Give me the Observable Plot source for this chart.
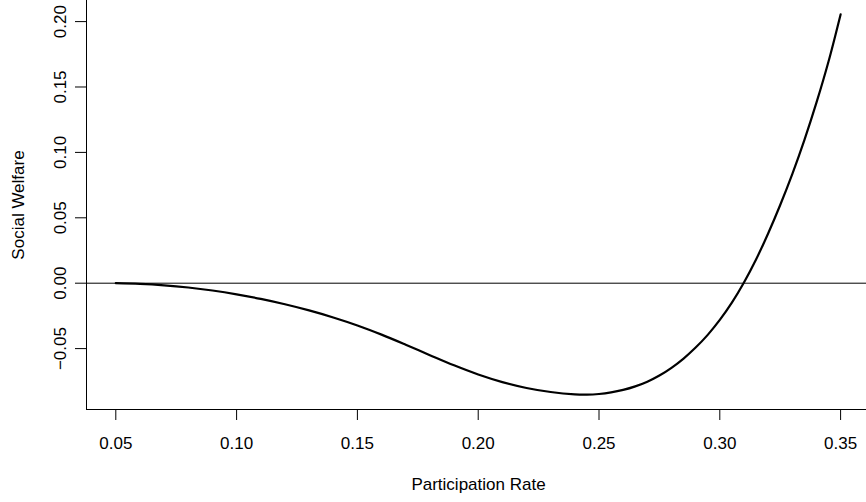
<!DOCTYPE html>
<html>
<head>
<meta charset="utf-8">
<script src="https://cdn.jsdelivr.net/npm/d3@7"></script>
<script src="https://cdn.jsdelivr.net/npm/@observablehq/plot@0.6"></script>
<style>
  html, body { margin: 0; padding: 0; background: #ffffff; }
  #chart svg { display: block; }
</style>
</head>
<body>
<div id="chart"></div>
<script>
// Data
const participationRate = [0.050, 0.060, 0.070, 0.080, 0.090, 0.100, 0.110, 0.120, 0.130, 0.140,
  0.150, 0.160, 0.170, 0.180, 0.190, 0.200, 0.210, 0.220, 0.230, 0.240, 0.245, 0.250, 0.255,
  0.260, 0.265, 0.270, 0.275, 0.280, 0.285, 0.290, 0.295, 0.300, 0.305, 0.310, 0.315, 0.320,
  0.325, 0.330, 0.335, 0.340, 0.345, 0.350];
const socialWelfare = [0.0000, -0.0005, -0.0016, -0.0033, -0.0056, -0.0085, -0.0120, -0.0161, -0.0208, -0.0262,
  -0.0323, -0.0393, -0.0470, -0.0550, -0.0628, -0.0698, -0.0756, -0.0801, -0.0832, -0.0850, -0.0852, -0.0847, -0.0835,
  -0.0816, -0.0789, -0.0753, -0.0706, -0.0647, -0.0576, -0.0492, -0.0395, -0.0281, -0.0149, 0.0005, 0.0181, 0.0380,
  0.0598, 0.0834, 0.1094, 0.1380, 0.1695, 0.2055];
const xTicks = [0.05, 0.10, 0.15, 0.20, 0.25, 0.30, 0.35];
const yTicks = [-0.05, 0.00, 0.05, 0.10, 0.15, 0.20];
const xLabel = "Participation Rate";
const yLabel = "Social Welfare";

const xDomain = [0.03787, 0.36072];
const yDomain = [-0.09656, 0.21613];

const rows = participationRate.map((x, i) => ({x, y: socialWelfare[i]}));
const fmt = d3.format(".2f");
const fmtY = d => (d < 0 ? "\u2212" + fmt(-d) : fmt(d));
const FS = 17;

const chart = Plot.plot({
  width: 866,
  height: 502,
  marginLeft: 86,
  marginRight: 0,
  marginTop: 0,
  marginBottom: 93,
  style: {fontFamily: "'Liberation Sans', Arial, Helvetica, sans-serif", fontSize: FS + "px", background: "#ffffff", color: "#000000"},
  x: {domain: xDomain},
  y: {domain: yDomain},
  marks: [
    Plot.axisX({ticks: xTicks, tickFormat: fmt, tickSize: 11, tickPadding: 16, label: null, fontSize: FS, stroke: "#000", fill: "#000"}),
    Plot.axisY({ticks: yTicks, tickFormat: fmtY, tickSize: 11, tickPadding: 10, tickRotate: -90, label: null, fontSize: FS, stroke: "#000", fill: "#000"}),
    Plot.ruleX([xDomain[0]], {stroke: "#000", strokeWidth: 1}),
    Plot.ruleY([yDomain[0]], {stroke: "#000", strokeWidth: 1}),
    Plot.ruleY([0], {stroke: "#000", strokeWidth: 1}),
    Plot.line(rows, {x: "x", y: "y", stroke: "#000", strokeWidth: 2.2, curve: "catmull-rom"}),
    Plot.text([xLabel], {frameAnchor: "bottom", dx: 2, dy: 80, text: d => d, lineAnchor: "bottom", textAnchor: "middle", fontSize: FS, fill: "#000"}),
    Plot.text([yLabel], {frameAnchor: "left", dx: -63, dy: 0, text: d => d, rotate: -90, lineAnchor: "bottom", textAnchor: "middle", fontSize: FS, fill: "#000"})
  ]
});
document.getElementById("chart").appendChild(chart);
</script>
</body>
</html>
